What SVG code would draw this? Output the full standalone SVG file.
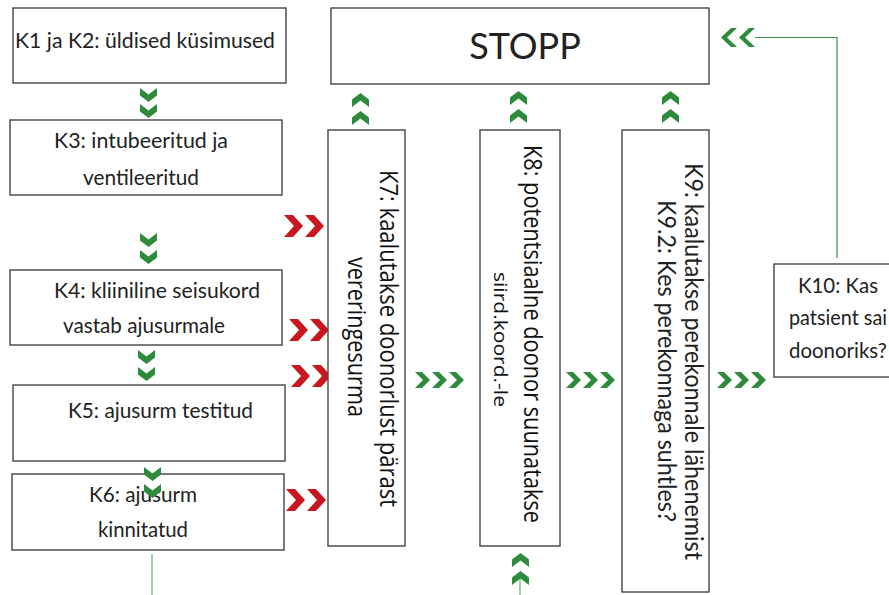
<svg xmlns="http://www.w3.org/2000/svg" xmlns:xlink="http://www.w3.org/1999/xlink" width="889" height="595" viewBox="0 0 889 595">
<defs>
<style>
.box{fill:#fff;stroke:#444;stroke-width:1.4}
.t{font-family:Lato,"Liberation Sans",sans-serif;font-size:21px;fill:#222}
.v{font-family:"Open Sans","Liberation Sans",sans-serif;fill:#111}
.g{fill:#2e8b3c}
.r{fill:#c8171f}
.ln{fill:none;stroke:#3f8f4a;stroke-width:1.2}
.ll{fill:none;stroke:#7fbf8a;stroke-width:1.5}
</style>
<polygon id="cd" points="0,0 8.5,6.5 17,0 17,7.5 8.5,14 0,7.5"/>
<polygon id="cu" points="0,14 8.5,7.5 17,14 17,6.5 8.5,0 0,6.5"/>
<polygon id="cr" points="0,0 7,0 15,8 7,16 0,16 8,8"/>
<polygon id="cl" points="16,0 10,0 0,9.5 10,19 16,19 6,9.5"/>
<polygon id="rr" points="0,0 9,0 19,11 9,22 0,22 10,11"/>
</defs>
<rect x="0" y="0" width="889" height="595" fill="#fff"/>

<g id="connectors">
  <path class="ln" d="M755 37.5 H837 V258"/>
  <path class="ll" d="M152 554 V595"/>
  <path class="ll" d="M520 578 V595"/>
  <g class="g">
    <use xlink:href="#cd" x="140" y="88"/><use xlink:href="#cd" x="140" y="104"/>
    <use xlink:href="#cd" x="140" y="233"/><use xlink:href="#cd" x="140" y="250"/>
    <use xlink:href="#cd" x="138" y="350"/><use xlink:href="#cd" x="138" y="367"/>
    <use xlink:href="#cu" x="352" y="93"/><use xlink:href="#cu" x="352" y="111"/>
    <use xlink:href="#cu" x="510" y="91"/><use xlink:href="#cu" x="510" y="109"/>
    <use xlink:href="#cu" x="662" y="91"/><use xlink:href="#cu" x="662" y="109"/>
    <use xlink:href="#cu" x="512" y="553"/><use xlink:href="#cu" x="512" y="571"/>
    <use xlink:href="#cr" x="415" y="372"/><use xlink:href="#cr" x="432" y="372"/><use xlink:href="#cr" x="449" y="372"/>
    <use xlink:href="#cr" x="566" y="372"/><use xlink:href="#cr" x="583" y="372"/><use xlink:href="#cr" x="600" y="372"/>
    <use xlink:href="#cr" x="717" y="372"/><use xlink:href="#cr" x="734" y="372"/><use xlink:href="#cr" x="751" y="372"/>
    <use xlink:href="#cl" x="721" y="28"/><use xlink:href="#cl" x="739" y="28"/>
  </g>
  <g class="r">
    <use xlink:href="#rr" x="284" y="215"/><use xlink:href="#rr" x="305" y="215"/>
    <use xlink:href="#rr" x="289" y="319"/><use xlink:href="#rr" x="310" y="319"/>
    <use xlink:href="#rr" x="291" y="365"/><use xlink:href="#rr" x="312" y="365"/>
    <use xlink:href="#rr" x="286" y="489"/><use xlink:href="#rr" x="307" y="489"/>
  </g>
</g>

<g id="K1K2">
  <rect class="box" x="13" y="8" width="273" height="75"/>
  <text class="t" x="15" y="48" textLength="260" lengthAdjust="spacingAndGlyphs">K1 ja K2: üldised küsimused</text>
</g>
<g id="K3">
  <rect class="box" x="10" y="120" width="272" height="75"/>
  <text class="t" x="54" y="148" textLength="174" lengthAdjust="spacingAndGlyphs">K3: intubeeritud ja</text>
  <text class="t" x="83" y="185" textLength="116" lengthAdjust="spacingAndGlyphs">ventileeritud</text>
</g>
<g id="K4">
  <rect class="box" x="10" y="270" width="272" height="75"/>
  <text class="t" x="54" y="298" textLength="206" lengthAdjust="spacingAndGlyphs">K4: kliiniline seisukord</text>
  <text class="t" x="63" y="333" textLength="162" lengthAdjust="spacingAndGlyphs">vastab ajusurmale</text>
</g>
<g id="K5">
  <rect class="box" x="13" y="385" width="272" height="76"/>
  <text class="t" x="68" y="418" textLength="185" lengthAdjust="spacingAndGlyphs">K5: ajusurm testitud</text>
</g>
<g id="K6">
  <rect class="box" x="12" y="474" width="272" height="76"/>
  <text class="t" x="89" y="502" textLength="108" lengthAdjust="spacingAndGlyphs">K6: ajusurm</text>
  <text class="t" x="98" y="537" textLength="90" lengthAdjust="spacingAndGlyphs">kinnitatud</text>
</g>
<g id="K5K6chev" class="g">
  <use xlink:href="#cd" x="144" y="467"/><use xlink:href="#cd" x="144" y="484"/>
</g>
<g id="STOPP">
  <rect class="box" x="331" y="8" width="378" height="76"/>
  <text class="t" x="525" y="59" text-anchor="middle" style="font-size:36px">STOPP</text>
</g>
<g id="K7">
  <rect class="box" x="328" y="130" width="77" height="416"/>
  <text class="v" transform="translate(380,338.5) rotate(90)" text-anchor="middle" font-size="25" textLength="337" lengthAdjust="spacingAndGlyphs">K7: kaalutakse doonorlust pärast</text>
  <text class="v" transform="translate(348,337) rotate(90)" text-anchor="middle" font-size="25" textLength="160" lengthAdjust="spacingAndGlyphs">vereringesurma</text>
</g>
<g id="K8">
  <rect class="box" x="480" y="130" width="80" height="416"/>
  <text class="v" transform="translate(524,334) rotate(90)" text-anchor="middle" font-size="25" textLength="378" lengthAdjust="spacingAndGlyphs">K8: potentsiaalne doonor suunatakse</text>
  <text class="v" transform="translate(494,339.5) rotate(90)" text-anchor="middle" font-size="19" textLength="135" lengthAdjust="spacingAndGlyphs">siird.koord.-le</text>
</g>
<g id="K9">
  <rect class="box" x="622" y="130" width="87" height="462"/>
  <text class="t" transform="translate(685,361.5) rotate(90)" text-anchor="middle" style="font-size:25px" textLength="397" lengthAdjust="spacingAndGlyphs">K9: kaalutakse perekonnale lähenemist</text>
  <text class="t" transform="translate(658,361) rotate(90)" text-anchor="middle" style="font-size:25px" textLength="322" lengthAdjust="spacingAndGlyphs">K9.2: Kes perekonnaga suhtles?</text>
</g>
<g id="K10">
  <rect class="box" x="774" y="264" width="130" height="113"/>
  <text class="t" x="838" y="293" text-anchor="middle" textLength="80" lengthAdjust="spacingAndGlyphs">K10: Kas</text>
  <text class="t" x="838" y="325" text-anchor="middle" textLength="98" lengthAdjust="spacingAndGlyphs">patsient sai</text>
  <text class="t" x="838" y="358" text-anchor="middle" textLength="98" lengthAdjust="spacingAndGlyphs">doonoriks?</text>
</g>
</svg>
